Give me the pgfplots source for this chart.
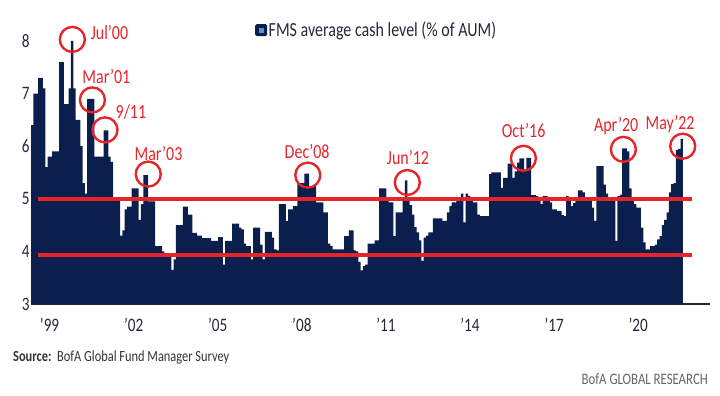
\documentclass[border=0pt]{standalone}
\usepackage{fontspec}
\setmainfont{Carlito}[FakeStretch=0.8]
\usepackage{pgfplots}
\usepackage{pgfplotstable}
\pgfplotsset{compat=1.18}
\definecolor{navy}{HTML}{0B1F4E}
\definecolor{fmsred}{HTML}{E5252A}
\definecolor{txt}{HTML}{26283A}
\definecolor{lblue}{HTML}{5B8FD0}

\pgfplotstableread{
v
6.4
7.0
7.0
7.3
7.3
7.1
5.6
5.8
5.8
5.9
5.9
5.9
7.6
7.6
6.8
6.8
7.1
8.0
7.1
6.5
6.5
6.0
5.3
5.1
6.9
6.9
6.9
5.8
5.8
5.8
5.8
6.3
6.3
5.8
5.7
5.0
5.0
5.0
4.3
4.4
4.8
4.85
4.85
5.2
5.2
5.2
4.6
4.9
5.45
5.45
4.95
4.95
4.95
4.1
4.1
4.1
4.0
3.95
3.95
3.95
3.65
3.85
4.5
4.5
4.5
4.85
4.85
4.7
4.7
4.35
4.35
4.3
4.3
4.25
4.25
4.25
4.25
4.2
4.2
4.2
4.27
4.27
3.75
4.2
4.2
4.2
4.53
4.53
4.53
4.45
4.42
4.15
4.1
4.1
3.85
4.45
4.45
4.45
4.13
3.85
4.37
4.37
4.37
4.26
4.04
4.02
4.9
4.9
4.9
4.58
4.8
4.8
4.86
4.86
5.3
5.3
5.3
5.48
5.48
5.24
5.24
5.24
4.93
4.93
4.93
4.74
4.74
4.15
4.1
4.04
4.04
4.04
4.04
4.04
4.29
4.29
4.4
4.4
4.02
4.0
3.8
3.64
3.72
3.75
4.15
4.15
4.15
4.21
4.21
5.2
5.2
5.2
5.02
4.93
4.93
4.29
4.74
4.74
4.74
5.0
5.35
5.0
4.88
4.7
4.46
4.36
4.21
3.82
4.26
4.3
4.36
4.36
4.63
4.63
4.63
4.63
4.58
4.58
4.74
4.86
4.93
4.93
5.02
5.02
5.1
4.55
5.1
5.05
4.97
4.93
4.93
4.7
4.67
4.67
4.67
4.67
5.47
5.5
5.5
5.5
5.5
5.21
5.4
5.4
5.67
5.67
5.4
5.52
5.69
5.77
5.77
5.56
5.78
5.78
5.07
5.07
5.05
5.02
4.9
5.05
5.05
5.03
4.93
4.8
4.8
4.77
4.77
4.69
4.67
5.05
5.02
4.86
4.92
5.0
5.16
5.16
5.12
5.0
4.99
4.96
4.83
4.58
5.62
5.62
5.62
5.27
5.1
5.03
5.03
5.0
4.2
5.05
5.08
5.96
5.96
5.9
5.2
5.0
4.9
4.83
4.83
4.45
4.17
4.04
4.04
4.1
4.1
4.13
4.23
4.29
4.5
4.6
4.74
5.12
5.28
5.3
5.93
5.95
6.14
}\fmsdata

\begin{document}
\begin{tikzpicture}[x=1pt,y=1pt]
\path[use as bounding box] (0,0) rectangle (720,396);
\begin{axis}[
  at={(31.2pt,92pt)}, anchor=south west,
  x=2.336pt, y=52.6pt,
  xmin=0.5, xmax=291, ymin=3, ymax=8.6,
  axis x line*=bottom, axis y line*=left,
  y axis line style={draw=none},
  x axis line style={draw=black!85, line width=1.2pt},
  major tick length=0pt,
  tick style={draw=none},
  ytick={3,4,5,6,7,8},
  xtick={7.5,43.5,79.5,115.5,151.5,187.5,223.5,259.5},
  xticklabels={'99,'02,'05,'08,'11,'14,'17,'20},
  yticklabel style={font=\fontsize{19}{19}\selectfont, text=txt, anchor=east, inner sep=0pt, xshift=-1.5pt},
  xticklabel style={font=\fontsize{19}{19}\selectfont, text=txt, anchor=center, inner sep=0pt, yshift=-21pt, xshift=2pt},
  /pgf/number format/assume math mode=true,
  legend style={at={(0.3298,0.930)}, anchor=west, draw=none, fill=none,
    font=\fontsize{20}{20}\selectfont, text=txt, inner sep=0pt,
    nodes={inner sep=1.5pt}},
  legend image code/.code={
    \fill[navy, rounded corners=1.5pt] (0pt,-6pt) rectangle (12pt,6pt);
    \fill[lblue] (3.5pt,-2.5pt) rectangle (8.5pt,2.5pt);
  },
]
\addplot[ybar, bar width=1.04, bar shift=0pt, fill=navy, draw=none]
  table[x expr=\coordindex+1, y=v] {\fmsdata};
\addlegendentry{FMS average cash level (\% of AUM)}
\addplot[fmsred, line width=4pt, forget plot] coordinates {(3.4,5.0) (283.4,5.0)};
\addplot[fmsred, line width=4pt, forget plot] coordinates {(3.4,3.94) (283.4,3.94)};

\begin{scope}[fmsred, line width=2.4pt]
\draw (axis cs:18.1,8.03) circle[radius=12.5pt];
\draw (axis cs:26.7,6.88) circle[radius=12.5pt];
\draw (axis cs:32.1,6.31) circle[radius=12.5pt];
\draw (axis cs:50.6,5.47) circle[radius=12.5pt];
\draw (axis cs:118.9,5.45) circle[radius=12.5pt];
\draw (axis cs:161.5,5.31) circle[radius=12.5pt];
\draw (axis cs:211.2,5.77) circle[radius=12.5pt];
\draw (axis cs:254.0,5.94) circle[radius=12.5pt];
\draw (axis cs:279.4,6.00) circle[radius=12.5pt];
\end{scope}
\begin{scope}[every node/.style={text=fmsred, font=\fontsize{20}{20}\selectfont, inner sep=0pt}]
\node at (axis cs:34.0,8.17) {Jul'00};
\node at (axis cs:32.7,7.33) {Mar'01};
\node at (axis cs:43.2,6.65) {9/11};
\node at (axis cs:55.0,5.87) {Mar'03};
\node at (axis cs:118.6,5.89) {Dec'08};
\node at (axis cs:161.8,5.79) {Jun'12};
\node at (axis cs:211.3,6.29) {Oct'16};
\node at (axis cs:250.9,6.38) {Apr'20};
\node at (axis cs:274.0,6.42) {May'22};
\end{scope}
\end{axis}
\node[anchor=west, inner sep=0pt, font=\fontsize{15.5}{15.5}\selectfont, text=black!80] at (13,39) {\textbf{Source:}\ \ BofA Global Fund Manager Survey};
\node[anchor=east, inner sep=0pt, font=\fontsize{16}{16}\selectfont, text=black!60] at (708,17) {BofA GLOBAL RESEARCH};
\end{tikzpicture}
\end{document}
